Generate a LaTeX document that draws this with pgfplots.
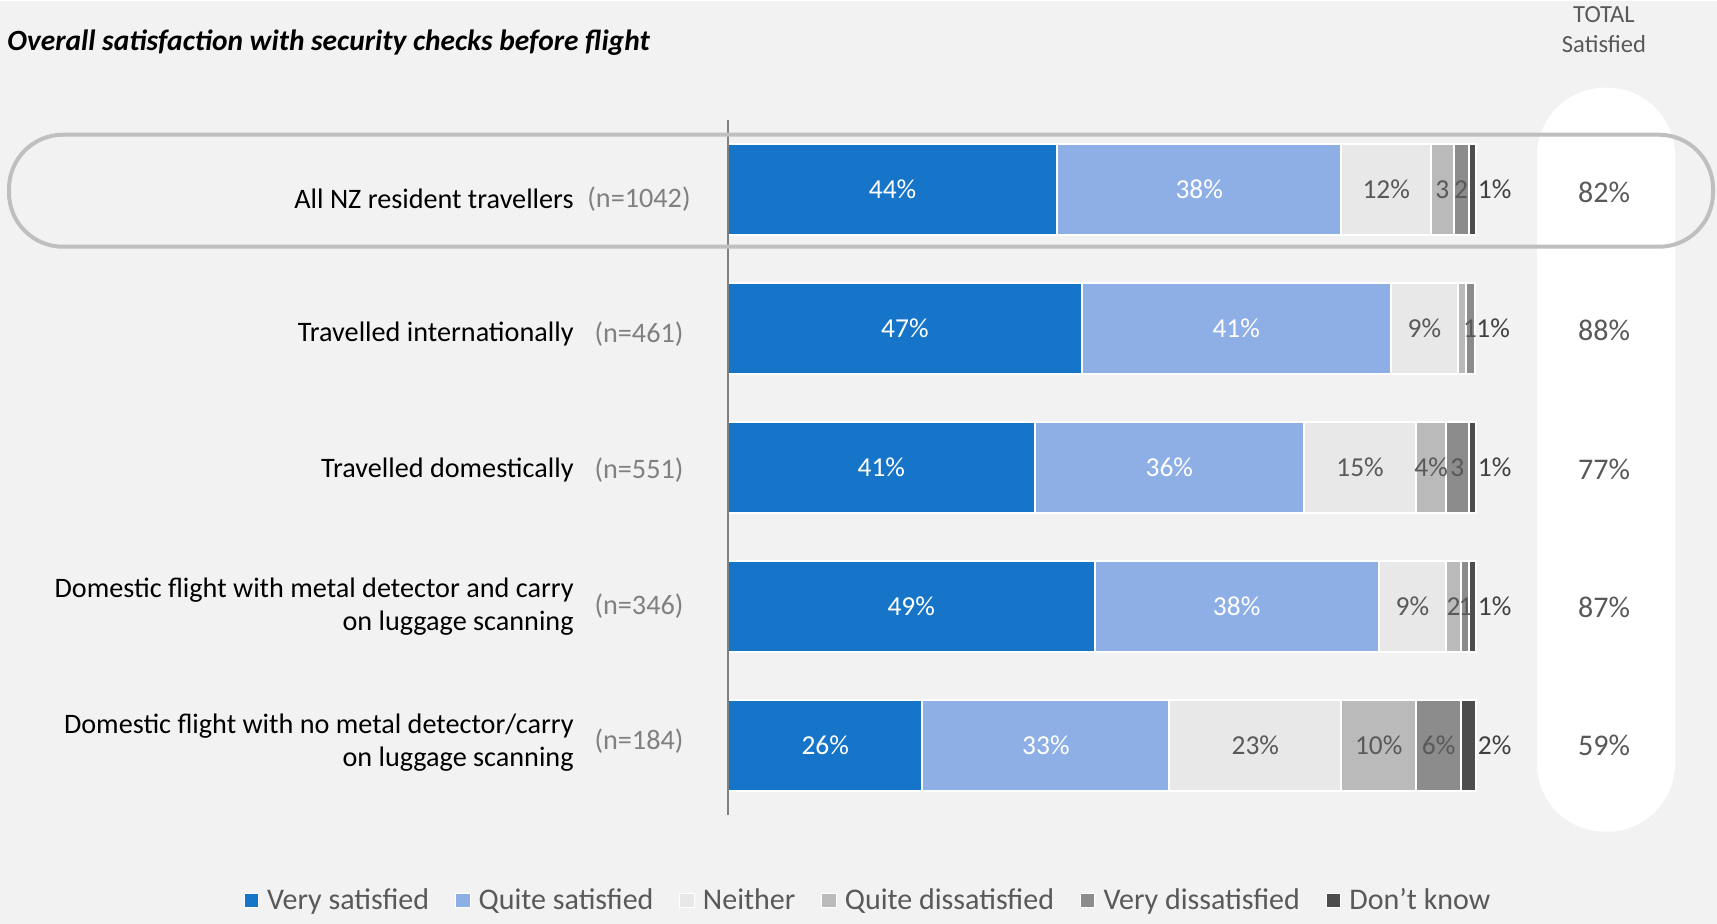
\documentclass[border=0pt]{standalone}
\usepackage{pgfplots}
\pgfplotsset{compat=1.18}
\usepackage{pgfplotstable}
\usepackage{fontspec}
\setmainfont{Carlito}
\definecolor{bgc}{HTML}{F2F2F2}
\definecolor{cvs}{HTML}{1775C9}
\definecolor{cqs}{HTML}{8EAFE6}
\definecolor{cne}{HTML}{E8E8E8}
\definecolor{cqd}{HTML}{BABABA}
\definecolor{cvd}{HTML}{8C8C8C}
\definecolor{cdk}{HTML}{4D4D4D}
\definecolor{txtg}{HTML}{595959}
\definecolor{txtd}{HTML}{404040}
\definecolor{ng}{HTML}{808080}
\definecolor{outl}{HTML}{BFBFBF}
\newcommand{\fs}{\fontsize{13.7}{16.5}\selectfont}
\newcommand{\fr}{\fontsize{14.1}{16.5}\selectfont}
\newcommand{\fl}{\fontsize{15}{17}\selectfont}
\pgfplotstableread{
y vs qs ne qd vd dk
4 44 38 12 3 2 1
3 47.3 41.3 9.0 1.1 1.1 0
2 41 36 15 4 3 1
1 49 38 9 2 1 1
0 26 33 23 10 6 2
}\data
\begin{document}
\begin{tikzpicture}
\fill[bgc] (0pt,0pt) rectangle (858.5pt,461.5pt);
% white total panel
\fill[white, rounded corners=34pt] (768.5pt,46pt) rectangle (837.5pt,418pt);
% title
\node[anchor=west, font=\fontsize{14.7}{17}\selectfont\bfseries\itshape, inner sep=0pt] at (3.5pt,440.5pt) {Overall satisfaction with security checks before flight};
\node[font=\fontsize{12.3}{14}\selectfont, text=txtg] at (802pt,454.5pt) {TOTAL};
\node[font=\fontsize{12.3}{14}\selectfont, text=txtg] at (802pt,440pt) {Satisfied};
% row labels
\begin{scope}[every node/.style={font=\fr, inner sep=0pt}]
\node[anchor=east, align=right] at (287pt,362.5pt) {All NZ resident travellers};
\node[anchor=east, align=right] at (287pt,295pt) {Travelled internationally};
\node[anchor=east, align=right] at (287pt,227pt) {Travelled domestically};
\node[anchor=east, align=right] at (287pt,158.5pt) {Domestic flight with metal detector and carry\\on luggage scanning};
\node[anchor=east, align=right] at (287pt,90.5pt) {Domestic flight with no metal detector/carry\\on luggage scanning};
\node[text=ng] at (319.5pt,362.5pt) {(n=1042)};
\node[text=ng] at (319.5pt,295pt) {(n=461)};
\node[text=ng] at (319.5pt,227pt) {(n=551)};
\node[text=ng] at (319.5pt,159pt) {(n=346)};
\node[text=ng] at (319.5pt,91.5pt) {(n=184)};
\end{scope}
\begin{scope}[every node/.style={font=\fl, inner sep=0pt, text=txtg}]
\node at (802pt,365.5pt) {82\%};
\node at (802pt,296.5pt) {88\%};
\node at (802pt,227pt) {77\%};
\node at (802pt,158pt) {87\%};
\node at (802pt,89pt) {59\%};
\end{scope}
\pgfplotsset{geom/.style={at={(364pt,54.25pt)}, anchor=south west, width=374pt, height=347.5pt,
  scale only axis, xmin=0, xmax=100, ymin=-0.5, ymax=4.5, hide axis, clip=false}}
\begin{axis}[geom, xbar stacked, bar width=45.5pt,
  every axis plot/.append style={draw=white, line width=1pt}]
\addplot[fill=cvs] table[x=vs, y=y] {\data};
\addplot[fill=cqs] table[x=qs, y=y] {\data};
\addplot[fill=cne] table[x=ne, y=y] {\data};
\addplot[fill=cqd] table[x=qd, y=y] {\data};
\addplot[fill=cvd] table[x=vd, y=y] {\data};
\addplot[fill=cdk] table[x=dk, y=y] {\data};
\end{axis}
\begin{axis}[geom,
  legend columns=6,
  legend style={at={(0.1885,-0.123)}, anchor=center, draw=none, fill=bgc,
    font=\fl, text=txtg, cells={anchor=west},
    /tikz/every even column/.append style={column sep=11pt}},
  legend image code/.code={\filldraw[#1, draw=white, line width=0.5pt] (0pt,-3.6pt) rectangle (7.2pt,3.6pt); \path[draw=none, fill=none] (0pt,0pt) rectangle (9.5pt,0.1pt);}]
\addlegendimage{fill=cvs}
\addlegendimage{fill=cqs}
\addlegendimage{fill=cne}
\addlegendimage{fill=cqd}
\addlegendimage{fill=cvd}
\addlegendimage{fill=cdk}
\legend{Very satisfied, Quite satisfied, Neither, Quite dissatisfied, Very dissatisfied, Don{\char"0027}t know}
\draw[ng, line width=1pt] (axis cs:0,-0.5) -- (axis cs:0,4.5);
\addplot[forget plot, draw=none, mark=none, nodes near coords, point meta=explicit symbolic,
  every node near coord/.append style={anchor=center, text=white, font=\fs, inner sep=0pt}]
  coordinates {(22,4) [44\%] (63,4) [38\%] (23.65,3) [47\%] (67.95,3) [41\%]
  (20.5,2) [41\%] (59,2) [36\%] (24.5,1) [49\%] (68,1) [38\%] (13,0) [26\%] (42.5,0) [33\%]};
\addplot[forget plot, draw=none, mark=none, nodes near coords, point meta=explicit symbolic,
  every node near coord/.append style={anchor=center, text=txtg, font=\fs, inner sep=0pt}]
  coordinates {(88,4) [12\%] (95.5,4) [3] (98,4) [2]
  (93.1,3) [9\%] (99.2,3) [1]
  (84.5,2) [15\%] (94,2) [4\%] (97.5,2) [3]
  (91.5,1) [9\%] (97,1) [2] (98.6,1) [1]
  (70.5,0) [23\%] (87,0) [10\%] (95,0) [6\%]};
\addplot[forget plot, draw=none, mark=none, nodes near coords, point meta=explicit symbolic,
  every node near coord/.append style={anchor=west, text=txtd, font=\fs, inner sep=0pt}]
  coordinates {(100.2,4) [1\%] (100,3) [1\%] (100.2,2) [1\%] (100.2,1) [1\%] (100.2,0) [2\%]};
\end{axis}
\draw[outl, line width=2pt, rounded corners=27pt] (4.5pt,338.5pt) rectangle (856.5pt,394.5pt);
\end{tikzpicture}
\end{document}
